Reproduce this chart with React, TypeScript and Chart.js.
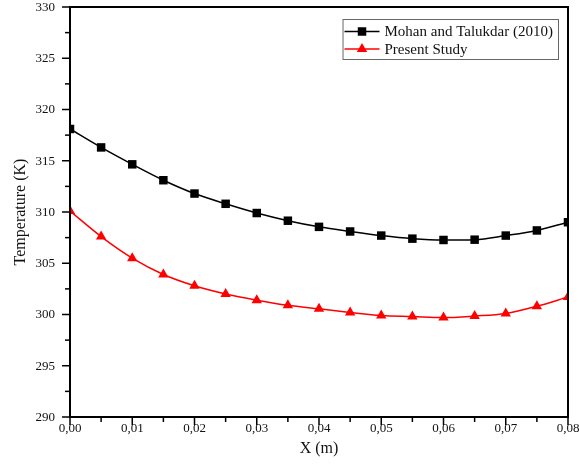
import React, { useEffect, useRef } from 'react';
import { Chart, registerables } from 'chart.js';

Chart.register(...registerables);

const xPositions = [0, 0.005, 0.01, 0.015, 0.02, 0.025, 0.03, 0.035, 0.04, 0.045, 0.05, 0.055, 0.06, 0.065, 0.07, 0.075, 0.08];
const mohanTemps = [318.1, 316.3, 314.65, 313.1, 311.8, 310.8, 309.9, 309.15, 308.55, 308.1, 307.7, 307.4, 307.27, 307.3, 307.7, 308.2, 309.0];
const presentTemps = [310.1, 307.6, 305.5, 303.9, 302.8, 302.0, 301.4, 300.9, 300.55, 300.2, 299.9, 299.8, 299.7, 299.85, 300.1, 300.8, 301.7];
const seriesLabels = ['Mohan and Talukdar (2010)', 'Present Study'];
const xTitle = 'X (m)';
const yTitle = 'Temperature (K)';
const xMin = 0, xMax = 0.08, xStep = 0.01;
const yMin = 290, yMax = 330, yStep = 5;

const FONT = '"Liberation Serif", "Times New Roman", serif';

function drawMarker(ctx: CanvasRenderingContext2D, style: string, x: number, y: number, r: number, color: string) {
  ctx.fillStyle = color;
  ctx.beginPath();
  if (style === 'rect') {
    const s = r * Math.SQRT1_2;
    ctx.rect(x - s, y - s, 2 * s, 2 * s);
  } else {
    let rad = 0;
    ctx.moveTo(x + Math.sin(rad) * r, y - Math.cos(rad) * r);
    rad += (2 * Math.PI) / 3;
    ctx.lineTo(x + Math.sin(rad) * r, y - Math.cos(rad) * r);
    rad += (2 * Math.PI) / 3;
    ctx.lineTo(x + Math.sin(rad) * r, y - Math.cos(rad) * r);
    ctx.closePath();
  }
  ctx.fill();
}

const framePlugin = {
  id: 'framePlugin',
  afterDatasetsDraw(chart: any) {
    const { ctx, chartArea: a, scales } = chart;
    const xs = scales.x;
    const ys = scales.y;
    ctx.save();
    // frame
    ctx.strokeStyle = '#000';
    ctx.lineWidth = 2;
    ctx.strokeRect(a.left, a.top, a.right - a.left, a.bottom - a.top);
    // y ticks (major + minor)
    ctx.lineWidth = 1.5;
    const yCount = Math.round((yMax - yMin) / (yStep / 2));
    for (let i = 0; i <= yCount; i++) {
      const v = yMin + (i * yStep) / 2;
      const y = ys.getPixelForValue(v);
      const len = i % 2 === 0 ? 8 : 5;
      ctx.beginPath();
      ctx.moveTo(a.left, y);
      ctx.lineTo(a.left - len, y);
      ctx.stroke();
    }
    // x ticks
    const xCount = Math.round((xMax - xMin) / (xStep / 2));
    for (let i = 0; i <= xCount; i++) {
      const v = xMin + (i * xStep) / 2;
      const x = xs.getPixelForValue(v);
      const len = i % 2 === 0 ? 8 : 5;
      ctx.beginPath();
      ctx.moveTo(x, a.bottom);
      ctx.lineTo(x, a.bottom + len);
      ctx.stroke();
    }
    ctx.fillStyle = '#111';
    ctx.font = `13px ${FONT}`;
    // x labels
    ctx.textAlign = 'center';
    ctx.textBaseline = 'middle';
    const xMajor = Math.round((xMax - xMin) / xStep);
    for (let i = 0; i <= xMajor; i++) {
      const v = xMin + i * xStep;
      const x = xs.getPixelForValue(v);
      ctx.fillText(v.toFixed(2).replace('.', ','), x, a.bottom + 12);
    }
    // y labels
    ctx.textAlign = 'right';
    const yMajor = Math.round((yMax - yMin) / yStep);
    for (let i = 0; i <= yMajor; i++) {
      const v = yMin + i * yStep;
      const y = ys.getPixelForValue(v);
      ctx.fillText(String(v), a.left - 15, y + 0.5);
    }
    ctx.restore();
  },
  afterDraw(chart: any) {
    const { ctx, chartArea: a } = chart;
    ctx.save();
    ctx.font = `15px ${FONT}`;
    const textW = Math.max(...chart.data.datasets.map((d: any) => ctx.measureText(d.label).width));
    const lineLen = 35;
    const w = 2 + lineLen + 5 + textW + 5;
    const h = 40;
    const bx = a.right - 10 - w;
    const by = a.top + 12;
    ctx.fillStyle = '#fff';
    ctx.fillRect(bx, by, w, h);
    ctx.strokeStyle = '#666';
    ctx.lineWidth = 1;
    ctx.strokeRect(bx + 0.5, by + 0.5, w, h);
    chart.data.datasets.forEach((d: any, i: number) => {
      const ry = by + 12.5 + i * 17.5;
      const lx = bx + 2;
      ctx.strokeStyle = d.borderColor;
      ctx.lineWidth = 1.5;
      ctx.beginPath();
      ctx.moveTo(lx, ry);
      ctx.lineTo(lx + lineLen, ry);
      ctx.stroke();
      drawMarker(ctx, d.pointStyle, lx + lineLen / 2, ry, d.pointRadius, d.backgroundColor);
      ctx.fillStyle = '#111';
      ctx.textAlign = 'left';
      ctx.textBaseline = 'middle';
      ctx.fillText(d.label, lx + lineLen + 5, ry + 1);
    });
    ctx.restore();
  },
};

export default function App() {
  const canvasRef = useRef<HTMLCanvasElement | null>(null);

  useEffect(() => {
    if (!canvasRef.current) return;
    const chart = new Chart(canvasRef.current, {
      type: 'line',
      data: {
        datasets: [
          {
            label: seriesLabels[0],
            data: xPositions.map((x, i) => ({ x, y: mohanTemps[i] })),
            borderColor: '#000000',
            backgroundColor: '#000000',
            borderWidth: 1.5,
            pointStyle: 'rect',
            pointRadius: 6,
            pointBorderWidth: 0,
            pointBackgroundColor: '#000000',
            cubicInterpolationMode: 'monotone',
          },
          {
            label: seriesLabels[1],
            data: xPositions.map((x, i) => ({ x, y: presentTemps[i] })),
            borderColor: '#ff0000',
            backgroundColor: '#ff0000',
            borderWidth: 1.5,
            pointStyle: 'triangle',
            pointRadius: 6,
            pointBorderWidth: 0,
            pointBackgroundColor: '#ff0000',
            cubicInterpolationMode: 'monotone',
          },
        ],
      },
      options: {
        animation: false,
        responsive: false,
        maintainAspectRatio: false,
        layout: { padding: { top: 7, right: 11, left: 0, bottom: 0 } },
        plugins: {
          legend: { display: false },
          tooltip: { enabled: false },
        },
        scales: {
          x: {
            type: 'linear',
            min: xMin,
            max: xMax,
            ticks: { display: false, stepSize: xStep },
            grid: { display: false, drawTicks: false },
            border: { display: false },
            title: {
              display: true,
              text: xTitle,
              font: { family: FONT, size: 16 },
              color: '#111',
              padding: { top: 0, bottom: 17 },
            },
            afterFit: (s: any) => {
              s.height = 58;
            },
          },
          y: {
            type: 'linear',
            min: yMin,
            max: yMax,
            ticks: { display: false, stepSize: yStep },
            grid: { display: false, drawTicks: false },
            border: { display: false },
            title: {
              display: true,
              text: yTitle,
              font: { family: FONT, size: 16 },
              color: '#111',
              padding: { top: 11, bottom: 0 },
            },
            afterFit: (s: any) => {
              s.width = 70;
            },
          },
        },
      },
      plugins: [framePlugin],
    });
    return () => chart.destroy();
  }, []);

  return (
    <div style={{ position: 'fixed', left: 0, top: 0, width: 579, height: 475, background: '#fff' }}>
      <canvas ref={canvasRef} width={579} height={475} style={{ width: 579, height: 475 }} />
    </div>
  );
}
